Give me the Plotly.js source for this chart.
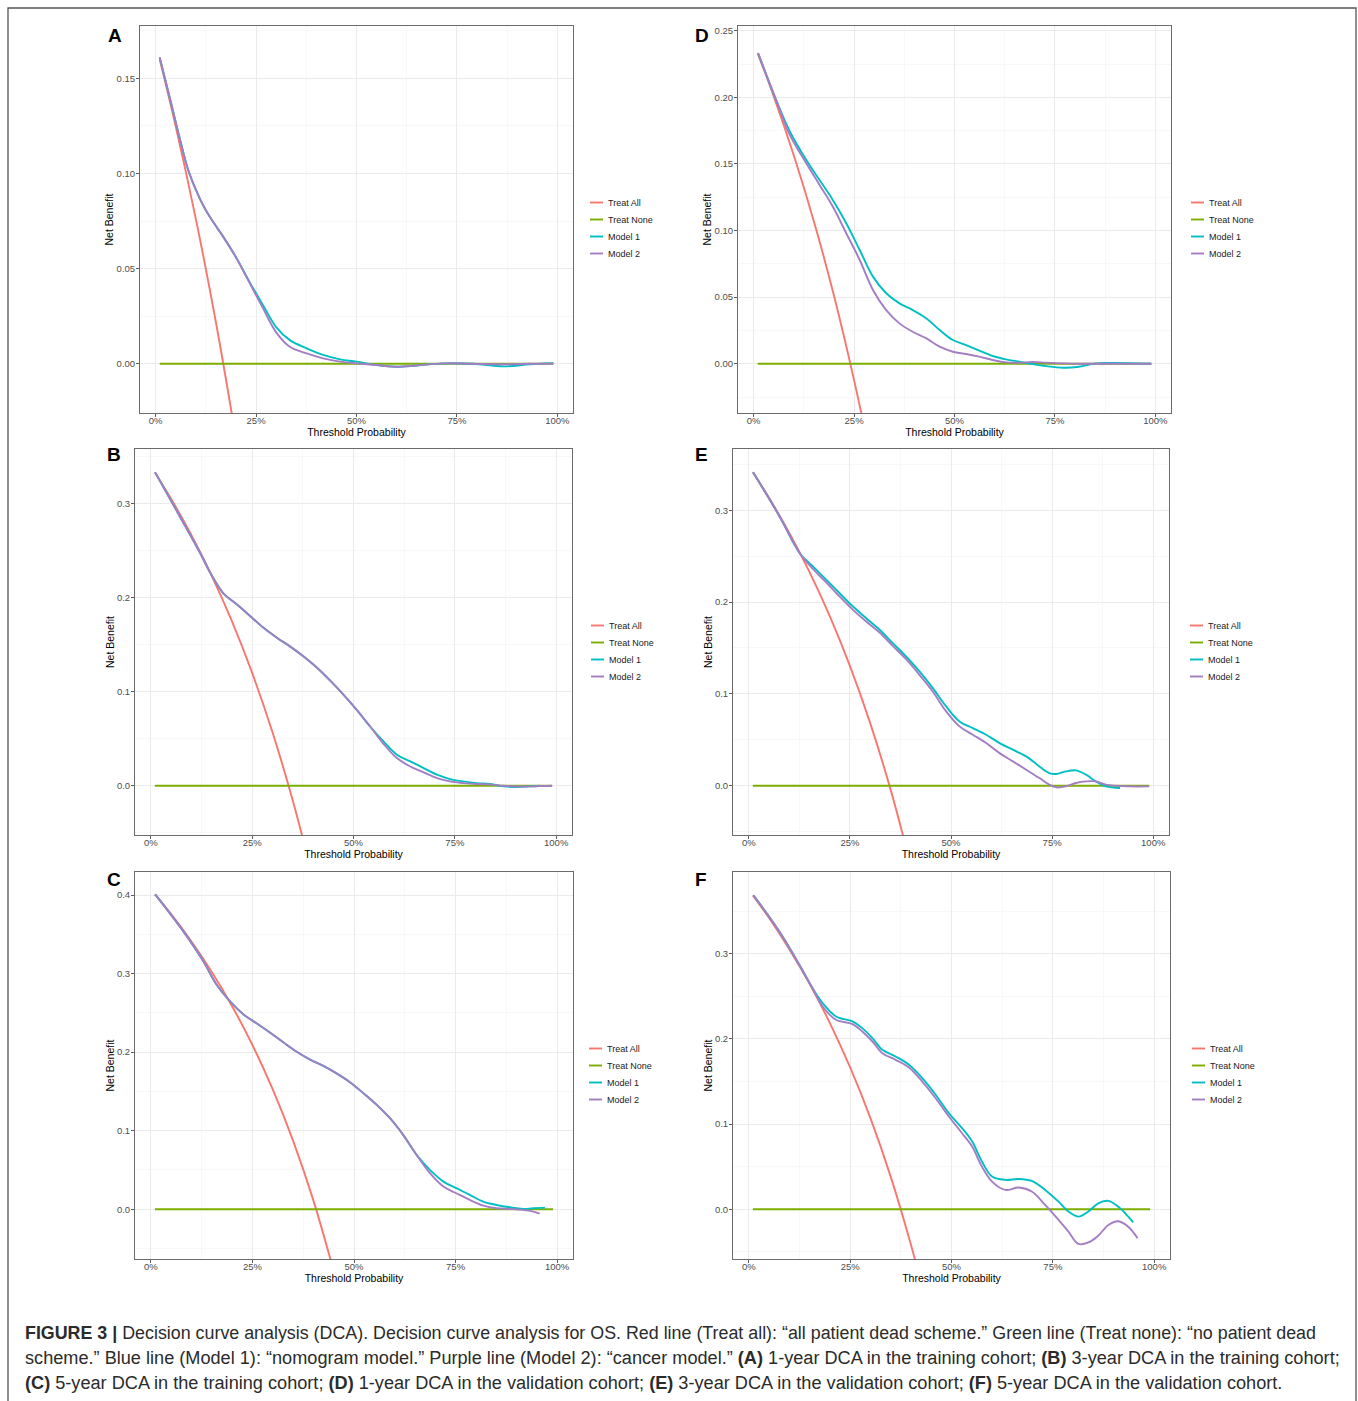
<!DOCTYPE html>
<html><head><meta charset="utf-8">
<script src="https://cdn.plot.ly/plotly-3.0.1.min.js"></script>
<style>html,body{margin:0;padding:0;background:#fff;} #chart{width:1358px;height:1401px;}</style>
</head><body><div id="chart"></div>
<script>
// ---------- DATA ----------
const seriesNames = ['Treat All', 'Treat None', 'Model 1', 'Model 2'];
const panelLetters = ['A', 'B', 'C', 'D', 'E', 'F'];
const xTickVals = [0, 0.25, 0.5, 0.75, 1];

const thrNone = [0.01, 0.99];
const nbNone = [0, 0];

// Panel A: 1-year, training
const thrAllA = [0.01, 0.05, 0.10, 0.15, 0.20];
const nbAllA = [0.160, 0.1247, 0.0761, 0.0218, -0.0394];
const thrM1A = [0.01, 0.036, 0.061, 0.08, 0.10, 0.12, 0.14, 0.168, 0.202, 0.235, 0.268, 0.301, 0.334, 0.376, 0.417, 0.459, 0.50, 0.55, 0.60, 0.65, 0.716, 0.79, 0.866, 0.932, 0.99];
const nbM1A = [0.161, 0.139, 0.1175, 0.1025, 0.0915, 0.0825, 0.0755, 0.0668, 0.0552, 0.0425, 0.0305, 0.0190, 0.0124, 0.0081, 0.0046, 0.0023, 0.0011, -0.0007, -0.0016, -0.0009, 0.0002, 0, -0.0014, -0.0003, 0.0003];
const thrM2A = thrM1A;
const nbM2A = [0.161, 0.139, 0.1175, 0.1025, 0.0915, 0.0825, 0.0755, 0.0668, 0.0552, 0.0420, 0.0288, 0.0162, 0.0089, 0.0054, 0.0028, 0.0011, 0.0002, -0.0007, -0.0016, -0.0009, 0.0002, 0, -0.0003, 0, 0];

// Panel B: 3-year, training
const thrAllB = [0.01, 0.05, 0.10, 0.15, 0.20, 0.25, 0.30, 0.35, 0.38];
const nbAllB = [0.3333, 0.3053, 0.2667, 0.2235, 0.175, 0.12, 0.0571, -0.0154, -0.0645];
const thrM1B = [0.0107, 0.072, 0.122, 0.146, 0.179, 0.212, 0.245, 0.278, 0.311, 0.344, 0.377, 0.41, 0.442, 0.475, 0.508, 0.541, 0.574, 0.607, 0.64, 0.673, 0.706, 0.738, 0.771, 0.804, 0.837, 0.87, 0.903, 0.936, 0.96];
const nbM1B = [0.3333, 0.2862, 0.2473, 0.227, 0.2047, 0.193, 0.1805, 0.168, 0.1575, 0.148, 0.1375, 0.1255, 0.112, 0.097, 0.0808, 0.063, 0.0471, 0.033, 0.0259, 0.0188, 0.0117, 0.0071, 0.0046, 0.0028, 0.0018, -0.0007, -0.0014, -0.0007, 0];
const thrM2B = [0.0107, 0.072, 0.122, 0.146, 0.179, 0.212, 0.245, 0.278, 0.311, 0.344, 0.377, 0.41, 0.442, 0.475, 0.508, 0.541, 0.574, 0.607, 0.64, 0.673, 0.706, 0.738, 0.771, 0.804, 0.837, 0.87, 0.903, 0.936, 0.96, 0.99];
const nbM2B = [0.3333, 0.2862, 0.2473, 0.227, 0.2047, 0.193, 0.1805, 0.168, 0.1575, 0.148, 0.1375, 0.1255, 0.112, 0.097, 0.0808, 0.063, 0.0446, 0.0294, 0.0205, 0.0142, 0.0081, 0.0046, 0.0028, 0.0018, 0.0014, 0, -0.0007, -0.0007, -0.0003, 0];

// Panel C: 5-year, training
const thrAllC = [0.01, 0.05, 0.10, 0.15, 0.20, 0.25, 0.30, 0.35, 0.40, 0.45];
const nbAllC = [0.4008, 0.3756, 0.3409, 0.3021, 0.2585, 0.2091, 0.1526, 0.0874, 0.0113, -0.0785];
const thrM1C = [0.0107, 0.08, 0.1295, 0.162, 0.195, 0.228, 0.261, 0.293, 0.326, 0.359, 0.392, 0.4246, 0.457, 0.49, 0.523, 0.556, 0.5885, 0.621, 0.654, 0.687, 0.72, 0.752, 0.785, 0.818, 0.851, 0.884, 0.916, 0.941, 0.97];
const nbM1C = [0.4008, 0.3537, 0.3155, 0.2858, 0.2645, 0.2480, 0.2365, 0.2250, 0.2125, 0.2005, 0.1905, 0.1825, 0.1730, 0.1618, 0.1478, 0.1329, 0.1159, 0.0947, 0.0692, 0.0501, 0.0352, 0.0268, 0.0183, 0.0098, 0.0055, 0.0025, 0.0004, 0.0013, 0.0021];
const thrM2C = [0.0107, 0.08, 0.1295, 0.162, 0.195, 0.228, 0.261, 0.293, 0.326, 0.359, 0.392, 0.4246, 0.457, 0.49, 0.523, 0.556, 0.5885, 0.621, 0.654, 0.687, 0.72, 0.752, 0.785, 0.818, 0.851, 0.884, 0.916, 0.941, 0.957];
const nbM2C = [0.4008, 0.3537, 0.3155, 0.2858, 0.2645, 0.2480, 0.2365, 0.2250, 0.2125, 0.2005, 0.1905, 0.1825, 0.1730, 0.1618, 0.1478, 0.1329, 0.1159, 0.0947, 0.0692, 0.0459, 0.0289, 0.0204, 0.0119, 0.0047, 0.0013, 0.0004, -0.0008, -0.003, -0.0055];

// Panel D: 1-year, validation
const thrAllD = [0.01, 0.05, 0.10, 0.15, 0.20, 0.25, 0.28];
const nbAllD = [0.2331, 0.2008, 0.1564, 0.1068, 0.051, -0.0123, -0.0544];
const thrM1D = [0.011, 0.056, 0.090, 0.131, 0.164, 0.197, 0.2305, 0.264, 0.297, 0.33, 0.363, 0.396, 0.43, 0.463, 0.496, 0.529, 0.562, 0.595, 0.628, 0.662, 0.695, 0.728, 0.77, 0.81, 0.852, 0.894, 0.99];
const nbM1D = [0.2332, 0.198, 0.1744, 0.153, 0.138, 0.123, 0.1055, 0.0854, 0.0654, 0.0529, 0.0453, 0.0403, 0.034, 0.0253, 0.0178, 0.014, 0.0098, 0.0058, 0.0033, 0.0015, -0.0003, -0.0018, -0.003, -0.0023, 0.0003, 0.0005, 0];
const thrM2D = thrM1D;
const nbM2D = [0.2332, 0.198, 0.1718, 0.1505, 0.1343, 0.118, 0.098, 0.0779, 0.0554, 0.0403, 0.0303, 0.024, 0.019, 0.0128, 0.009, 0.0073, 0.0053, 0.0028, 0.001, 0.0008, 0.0013, 0.0008, 0.0003, 0, 0, 0, 0];

// Panel E: 3-year, validation
const thrAllE = [0.01, 0.05, 0.10, 0.15, 0.20, 0.25, 0.30, 0.35, 0.39];
const nbAllE = [0.3413, 0.3136, 0.2754, 0.2328, 0.1849, 0.1305, 0.0684, -0.0032, -0.069];
const thrM1E = [0.0107, 0.0765, 0.126, 0.159, 0.192, 0.2247, 0.2576, 0.2905, 0.3235, 0.356, 0.389, 0.422, 0.455, 0.488, 0.521, 0.554, 0.587, 0.62, 0.653, 0.686, 0.7185, 0.743, 0.76, 0.784, 0.809, 0.834, 0.858, 0.883, 0.918];
const nbM1E = [0.3413, 0.293, 0.2532, 0.2387, 0.2242, 0.2096, 0.1951, 0.1824, 0.1698, 0.1552, 0.1407, 0.1244, 0.1063, 0.0863, 0.07, 0.0627, 0.0555, 0.0464, 0.0392, 0.0319, 0.021, 0.0138, 0.0127, 0.0156, 0.0167, 0.012, 0.0047, -0.0007, -0.0025];
const thrM2E = [0.0107, 0.0765, 0.126, 0.159, 0.192, 0.2247, 0.2576, 0.2905, 0.3235, 0.356, 0.389, 0.422, 0.455, 0.488, 0.521, 0.554, 0.587, 0.62, 0.653, 0.686, 0.7185, 0.743, 0.76, 0.784, 0.809, 0.834, 0.858, 0.883, 0.94, 0.99];
const nbM2E = [0.3413, 0.293, 0.2532, 0.2358, 0.2213, 0.206, 0.1915, 0.1788, 0.1668, 0.1523, 0.1378, 0.1208, 0.1026, 0.0809, 0.0646, 0.0555, 0.0464, 0.0355, 0.0265, 0.0174, 0.0083, 0.0011, -0.0018, -0.0007, 0.0029, 0.0047, 0.0047, 0.0011, -0.0007, -0.0007];

// Panel F: 5-year, validation
const thrAllF = [0.01, 0.05, 0.10, 0.15, 0.20, 0.25, 0.30, 0.35, 0.40, 0.42];
const nbAllF = [0.3686, 0.342, 0.3054, 0.2646, 0.2186, 0.1665, 0.107, 0.0383, -0.0418, -0.0778];
const thrM1F = [0.0115, 0.075, 0.1246, 0.157, 0.182, 0.215, 0.2557, 0.28, 0.305, 0.3295, 0.362, 0.395, 0.428, 0.461, 0.4934, 0.526, 0.551, 0.575, 0.6, 0.633, 0.6656, 0.698, 0.731, 0.764, 0.7885, 0.813, 0.8377, 0.862, 0.887, 0.911, 0.936, 0.948];
const nbM1F = [0.3686, 0.3263, 0.2871, 0.2597, 0.2421, 0.2264, 0.2205, 0.2127, 0.2009, 0.1872, 0.1794, 0.1696, 0.1539, 0.1344, 0.1128, 0.0952, 0.0795, 0.056, 0.0384, 0.0345, 0.0356, 0.0333, 0.0227, 0.009, -0.0027, -0.0086, -0.0027, 0.007, 0.0098, 0.0031, -0.0086, -0.0153];
const thrM2F = [0.0115, 0.075, 0.1246, 0.157, 0.182, 0.215, 0.2557, 0.28, 0.305, 0.3295, 0.362, 0.395, 0.428, 0.461, 0.4934, 0.526, 0.551, 0.575, 0.6, 0.633, 0.6656, 0.698, 0.731, 0.764, 0.7885, 0.813, 0.8377, 0.862, 0.887, 0.911, 0.936, 0.959];
const nbM2F = [0.3686, 0.3263, 0.2871, 0.2597, 0.2381, 0.2225, 0.2174, 0.2088, 0.197, 0.1833, 0.1755, 0.1665, 0.15, 0.1304, 0.1089, 0.0893, 0.0736, 0.0501, 0.0325, 0.0227, 0.0255, 0.0208, 0.0051, -0.0125, -0.0262, -0.0407, -0.039, -0.031, -0.0184, -0.0141, -0.0205, -0.034];

const captionLines = [
  '<b>FIGURE 3 |</b> Decision curve analysis (DCA). Decision curve analysis for OS. Red line (Treat all): \u201call patient dead scheme.\u201d Green line (Treat none): \u201cno patient dead',
  'scheme.\u201d Blue line (Model 1): \u201cnomogram model.\u201d Purple line (Model 2): \u201ccancer model.\u201d <b>(A)</b> 1-year DCA in the training cohort; <b>(B)</b> 3-year DCA in the training cohort;',
  '<b>(C)</b> 5-year DCA in the training cohort; <b>(D)</b> 1-year DCA in the validation cohort; <b>(E)</b> 3-year DCA in the validation cohort; <b>(F)</b> 5-year DCA in the validation cohort.'
];

// ---------- LAYOUT / STYLE ----------
const W = 1358, H = 1401;
const px = v => v / W;
const py = v => 1 - v / H;
const colors = ['#F8766D', '#7CAE00', '#00BFC4', '#A47DC3'];
const FONT = 'Liberation Sans, Arial, Helvetica, sans-serif';

const panelData = {
  A: [[thrAllA, nbAllA], [thrNone, nbNone], [thrM1A, nbM1A], [thrM2A, nbM2A]],
  B: [[thrAllB, nbAllB], [thrNone, nbNone], [thrM1B, nbM1B], [thrM2B, nbM2B]],
  C: [[thrAllC, nbAllC], [thrNone, nbNone], [thrM1C, nbM1C], [thrM2C, nbM2C]],
  D: [[thrAllD, nbAllD], [thrNone, nbNone], [thrM1D, nbM1D], [thrM2D, nbM2D]],
  E: [[thrAllE, nbAllE], [thrNone, nbNone], [thrM1E, nbM1E], [thrM2E, nbM2E]],
  F: [[thrAllF, nbAllF], [thrNone, nbNone], [thrM1F, nbM1F], [thrM2F, nbM2F]]
};

// box: [left, right, top, bottom] in px
const panelCfg = {
  A: {box: [140, 573, 26, 413], yr: [-0.0259, 0.1775], yt: [0, 0.05, 0.10, 0.15], ym: [-0.025, 0.025, 0.075, 0.125, 0.175], fmt: '.2f', letter: [106, 35], leg: [568, 188]},
  B: {box: [135, 572, 449, 835], yr: [-0.0524, 0.3582], yt: [0, 0.1, 0.2, 0.3], ym: [-0.05, 0.05, 0.15, 0.25, 0.35], fmt: '.1f', letter: [105, 455], leg: [569, 611]},
  C: {box: [135, 573, 872, 1259], yr: [-0.0633, 0.4293], yt: [0, 0.1, 0.2, 0.3, 0.4], ym: [-0.05, 0.05, 0.15, 0.25, 0.35], fmt: '.1f', letter: [105, 879], leg: [567, 1034]},
  D: {box: [738, 1171, 26, 413], yr: [-0.037, 0.2536], yt: [0, 0.05, 0.10, 0.15, 0.20, 0.25], ym: [-0.025, 0.025, 0.075, 0.125, 0.175, 0.225], fmt: '.2f', letter: [693, 35], leg: [1169, 188]},
  E: {box: [733, 1169, 449, 835], yr: [-0.0537, 0.3667], yt: [0, 0.1, 0.2, 0.3], ym: [-0.05, 0.05, 0.15, 0.25, 0.35], fmt: '.1f', letter: [693, 455], leg: [1168, 611]},
  F: {box: [733, 1170, 872, 1259], yr: [-0.0584, 0.396], yt: [0, 0.1, 0.2, 0.3], ym: [-0.05, 0.05, 0.15, 0.25, 0.35], fmt: '.1f', letter: [693, 879], leg: [1170, 1034]}
};

const traces = [];
const layout = {
  width: W, height: H,
  margin: {l: 0, r: 0, t: 0, b: 0},
  paper_bgcolor: '#ffffff', plot_bgcolor: '#ffffff',
  font: {family: FONT, color: '#000'},
  showlegend: true,
  annotations: [], shapes: []
};

panelLetters.forEach((L, i) => {
  const n = i + 1;
  const sfx = n === 1 ? '' : String(n);
  const cfg = panelCfg[L];
  const legId = 'legend' + sfx;
  panelData[L].forEach((d, k) => {
    traces.push({
      type: 'scatter', mode: 'lines', x: d[0], y: d[1],
      name: seriesNames[k], legend: legId,
      xaxis: 'x' + sfx, yaxis: 'y' + sfx,
      line: {color: colors[k], width: 1.9, shape: k === 1 ? 'linear' : 'spline', smoothing: 1},
      hoverinfo: 'skip'
    });
  });
  const [l, r, t, b] = cfg.box;
  layout['xaxis' + sfx] = {
    domain: [px(l), px(r)], anchor: 'y' + sfx,
    range: [-0.039, 1.039], tickmode: 'array', tickvals: xTickVals, tickformat: '.0%',
    showgrid: true, gridcolor: '#EBEBEB', gridwidth: 1,
    minor: {tickmode: 'array', tickvals: [0.125, 0.375, 0.625, 0.875], showgrid: true, gridcolor: '#F3F3F3', gridwidth: 0.6, ticks: ''},
    zeroline: false, showline: true, mirror: true, linecolor: '#6b6b6b', linewidth: 1,
    ticks: 'outside', ticklen: 3, tickcolor: '#333', tickwidth: 0.8,
    ticklabelstandoff: -4,
    tickfont: {size: 9.5, color: '#4D4D4D', family: FONT},
    title: {text: 'Threshold Probability', font: {size: 10.5, color: '#000', family: FONT}, standoff: 0},
    automargin: true, fixedrange: true
  };
  layout['yaxis' + sfx] = {
    domain: [py(b), py(t)], anchor: 'x' + sfx,
    range: cfg.yr, tickmode: 'array', tickvals: cfg.yt, tickformat: cfg.fmt,
    showgrid: true, gridcolor: '#EBEBEB', gridwidth: 1,
    minor: {tickmode: 'array', tickvals: cfg.ym, showgrid: true, gridcolor: '#F3F3F3', gridwidth: 0.6, ticks: ''},
    zeroline: false, showline: true, mirror: true, linecolor: '#6b6b6b', linewidth: 1,
    ticks: 'outside', ticklen: 3, tickcolor: '#333', tickwidth: 0.8,
    ticklabelstandoff: -1,
    tickfont: {size: 9.5, color: '#4D4D4D', family: FONT},
    title: {text: 'Net Benefit', font: {size: 10.5, color: '#000', family: FONT}, standoff: 0},
    automargin: true, fixedrange: true
  };
  layout[legId] = {
    x: px(cfg.leg[0]), y: py(cfg.leg[1]), xanchor: 'left', yanchor: 'top',
    bgcolor: 'rgba(0,0,0,0)', borderwidth: 0,
    font: {size: 9, color: '#1a1a1a', family: FONT},
    itemclick: false, itemdoubleclick: false
  };
  layout.annotations.push({
    xref: 'paper', yref: 'paper', x: px(cfg.letter[0]), y: py(cfg.letter[1]),
    xanchor: 'left', yanchor: 'middle', showarrow: false,
    text: '<b>' + L + '</b>', font: {size: 19, color: '#000', family: FONT}
  });
});

const capY = [1333, 1358, 1383];
const capSize = [17.85, 18.15, 18.15];
captionLines.forEach((txt, i) => {
  layout.annotations.push({
    xref: 'paper', yref: 'paper', x: px(23), y: py(capY[i]),
    xanchor: 'left', yanchor: 'middle', showarrow: false, align: 'left',
    text: txt, font: {size: capSize[i], color: '#2b2b2b', family: FONT}
  });
});

layout.shapes.push({
  type: 'rect', xref: 'paper', yref: 'paper',
  x0: px(8), x1: px(1356), y0: py(1408), y1: py(8),
  line: {color: '#555', width: 1.3}, fillcolor: 'rgba(0,0,0,0)', layer: 'above'
});

Plotly.newPlot('chart', traces, layout, {displayModeBar: false, staticPlot: true}).then(gd => {
  // ggplot-like legend keys: short key lines and 17px row spacing
  document.querySelectorAll('.legendlines path').forEach(p => p.setAttribute('d', 'M22,0h13'));
  document.querySelectorAll('.infolayer > g').forEach(lg => {
    const cls = (lg.getAttribute('class') || '');
    if (!/^legend\d*$/.test(cls)) return;
    let first = null;
    lg.querySelectorAll('g.traces').forEach((g, i) => {
      const m = /translate\(\s*([-\d.]+)[ ,]+([-\d.]+)\s*\)/.exec(g.getAttribute('transform') || '');
      if (!m) return;
      const x = +m[1], y = +m[2];
      if (first === null) first = y;
      g.setAttribute('transform', 'translate(' + x + ',' + (first + i * 17) + ')');
    });
  });
});
</script></body></html>
